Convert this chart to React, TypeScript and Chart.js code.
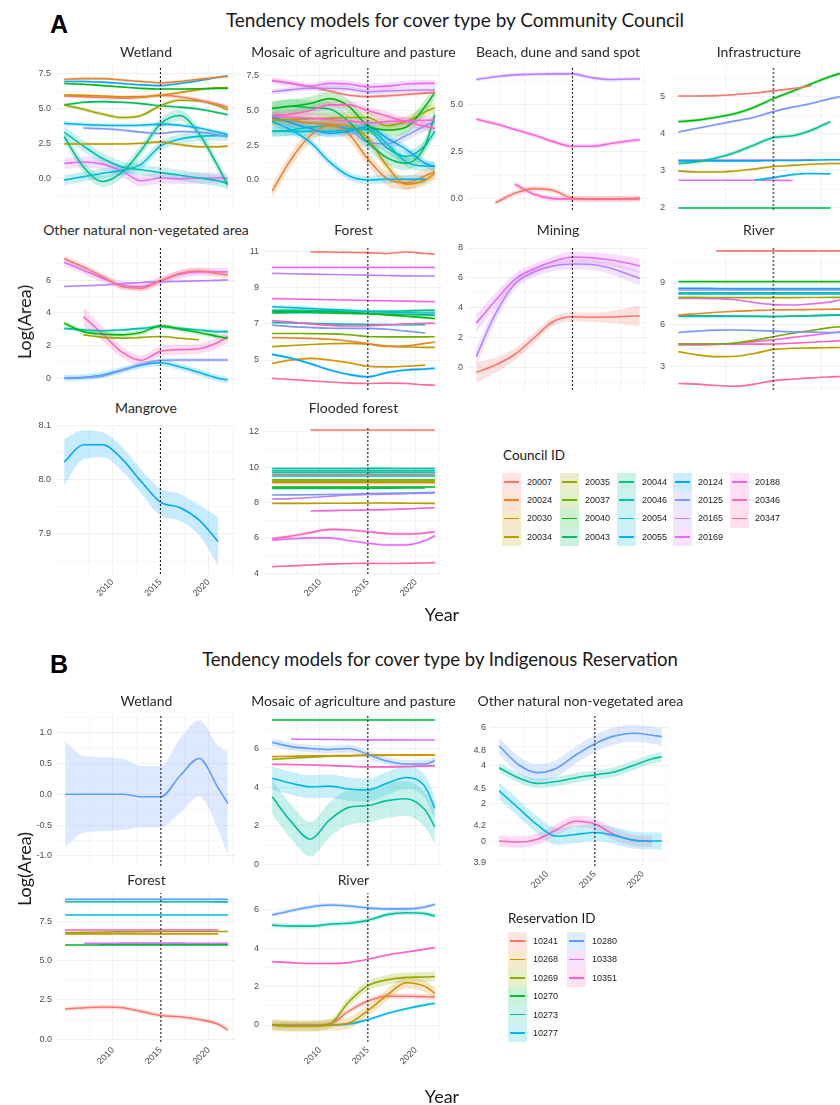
import React, { useEffect, useRef } from 'react';
import { Chart, registerables } from 'chart.js';
Chart.register(...registerables);

// ---------------- data ----------------
const YEARS = [2005, 2007, 2009, 2011, 2013, 2015, 2017, 2019, 2021, 2022];
const X_TICKS = [2010, 2015, 2020];
const X_MINOR = [2007.5, 2012.5, 2017.5, 2022.5];
const BREAK_YEAR = 2015;
const X_MIN = 2004.15;
const X_MAX = 2022.85;

const COUNCIL_IDS = ['20007', '20024', '20030', '20034', '20035', '20037', '20040', '20043', '20044', '20046', '20054', '20055', '20124', '20125', '20165', '20169', '20188', '20346', '20347'];
const RESERVATION_IDS = ['10241', '10268', '10269', '10270', '10273', '10277', '10280', '10338', '10351'];

const A_WETLAND = [
  { id: '20024', v: [7.1, 7.15, 7.15, 7.05, 6.95, 6.85, 6.95, 7.1, 7.25, 7.3], se: 0.1 },
  { id: '20124', v: [6.95, 6.95, 6.9, 6.8, 6.7, 6.65, 6.8, 7.0, 7.25, 7.35], se: 0.08 },
  { id: '20040', v: [6.8, 6.75, 6.65, 6.55, 6.45, 6.4, 6.4, 6.42, 6.45, 6.45], se: 0.06 },
  { id: '20030', v: [5.97, 5.95, 5.9, 5.85, 5.85, 5.95, 6.15, 6.35, 6.5, 6.5], se: 0.1 },
  { id: '20007', v: [5.9, 5.85, 5.8, 5.75, 5.8, 5.95, 5.85, 5.6, 5.3, 5.1], se: 0.15 },
  { id: '20035', v: [5.25, 4.95, 4.6, 4.35, 4.5, 5.2, 5.6, 5.55, 5.2, 4.9], se: 0.15 },
  { id: '20043', v: [5.25, 5.45, 5.5, 5.45, 5.35, 5.2, 5.1, 4.95, 4.7, 4.55], se: 0.1 },
  { id: '20055', v: [3.93, 3.85, 3.8, 3.78, 3.8, 3.88, 3.8, 3.6, 3.3, 3.1], se: 0.15 },
  { id: '20125', v: [null, 3.6, 3.55, 3.45, 3.3, 3.2, 3.35, 3.3, 3.1, 2.95], se: 0.1 },
  { id: '20044', v: [2.97, 0.8, -0.25, 0.4, 2.0, 3.9, 4.5, 3.2, 0.8, -0.5], se: 0.4 },
  { id: '20034', v: [2.45, 2.45, 2.45, 2.45, 2.5, 2.6, 2.4, 2.25, 2.25, 2.3], se: 0.1 },
  { id: '20046', v: [3.3, 2.3, 1.4, 0.8, 0.6, 0.4, 0.2, 0.0, -0.2, -0.4], se: 0.4 },
  { id: '20054', v: [-0.15, 0.1, 0.35, 0.55, 1.0, 2.3, 2.8, 3.0, 3.05, 3.0], se: 0.35 },
  { id: '20169', v: [1.05, 1.15, 1.0, 0.5, -0.2, 0.0, -0.05, 0.0, 0.0, 0.0], se: 0.4 },
];

const A_MOSAIC = [
  { id: '20169', v: [7.15, 6.95, 6.75, 6.95, 6.9, 6.7, 6.75, 6.9, 6.95, 6.95], se: 0.25 },
  { id: '20165', v: [6.35, 6.5, 6.6, 6.6, 6.55, 6.35, 6.4, 6.45, 6.47, 6.47], se: 0.2 },
  { id: '20007', v: [7.15, 6.95, 6.7, 6.4, 6.1, 6.0, 6.05, 6.15, 6.25, 6.3], se: 0.12 },
  { id: '20346', v: [4.6, 4.75, 5.0, 5.4, 5.4, 5.0, 4.6, 4.2, 3.85, 3.7], se: 0.3 },
  { id: '20188', v: [4.6, 4.5, 4.45, 4.35, 4.25, 4.1, 4.2, 4.25, 4.3, 4.3], se: 0.3 },
  { id: '20040', v: [5.15, 5.3, 5.5, 5.85, 5.3, 3.9, 3.6, 3.8, 5.3, 6.3], se: 0.5 },
  { id: '20035', v: [4.3, 4.35, 4.4, 4.45, 4.5, 4.5, 3.9, 4.2, 4.9, 5.2], se: 0.4 },
  { id: '20043', v: [5.15, 5.3, 5.2, 5.1, 4.2, 2.7, 1.6, 1.2, 2.5, 4.7], se: 0.5 },
  { id: '20055', v: [4.2, 3.6, 2.7, 1.3, 0.3, 0.0, 0.05, 0.05, 0.05, null], se: 0.3 },
  { id: '20124', v: [4.55, 4.1, 3.7, 3.35, 3.5, 3.85, 3.0, 2.2, 1.2, 0.95], se: 0.3 },
  { id: '20024', v: [-0.8, 1.5, 3.2, 3.9, 3.3, 1.5, 0.1, -0.2, 0.3, 0.6], se: 0.5 },
  { id: '20030', v: [4.4, 4.3, 4.1, 4.0, 3.9, 3.0, 1.0, -0.3, 0.0, 0.5], se: 0.4 },
  { id: '20046', v: [3.5, 3.6, 3.8, 3.9, 3.7, 3.6, 2.3, 1.7, 2.5, 3.5], se: 0.4 },
  { id: '20125', v: [4.3, 4.2, 4.1, 4.0, 3.7, 2.7, 2.6, 3.2, 3.9, 4.2], se: 0.4 },
  { id: '20054', v: [3.5, 3.5, 3.5, 3.5, 3.6, 3.7, 2.6, 1.3, 1.0, 1.0], se: 0.35 },
];

const A_BEACH = [
  { id: '20165', v: [6.35, 6.5, 6.6, 6.63, 6.65, 6.65, 6.45, 6.35, 6.38, 6.38], se: 0.1 },
  { id: '20188', v: [4.24, 4.0, 3.7, 3.4, 3.05, 2.8, 2.8, 2.95, 3.1, 3.15], se: 0.12 },
  { id: '20007', v: [null, -0.2, 0.3, 0.55, 0.45, 0.05, 0.0, 0.0, 0.0, 0.0], se: 0.15 },
  { id: '20346', v: [null, null, 0.8, 0.25, 0.02, 0.0, 0.0, 0.0, 0.02, 0.05], se: 0.15 },
];

const A_INFRA = [
  { id: '20007', v: [5.02, 5.02, 5.03, 5.06, 5.1, 5.16, 5.22, 5.3, null, null], se: 0.02 },
  { id: '20040', v: [4.33, 4.37, 4.45, 4.55, 4.72, 4.95, 5.15, 5.35, 5.55, 5.63], se: 0.05 },
  { id: '20125', v: [4.05, 4.15, 4.25, 4.35, 4.45, 4.6, 4.72, 4.82, 4.95, 5.0], se: 0.03 },
  { id: '20044', v: [3.2, 3.25, 3.35, 3.5, 3.7, 3.9, 3.95, 4.1, 4.33, null], se: 0.06 },
  { id: '20124', v: [3.27, 3.27, 3.27, 3.27, 3.27, 3.28, 3.28, 3.29, 3.3, 3.3], se: 0.02 },
  { id: '20165', v: [3.29, 3.29, 3.29, 3.29, 3.29, 3.29, 3.29, 3.3, null, null], se: 0.02 },
  { id: '20034', v: [3.0, 2.97, 2.97, 3.0, 3.05, 3.12, 3.15, 3.18, 3.2, 3.2], se: 0.03 },
  { id: '20055', v: [null, null, null, null, 2.75, 2.82, 2.9, 2.93, 2.92, null], se: 0.03 },
  { id: '20169', v: [2.75, 2.75, 2.75, 2.75, 2.75, 2.75, 2.74, null, null, null], se: 0.02 },
  { id: '20043', v: [2.0, 2.0, 2.0, 2.0, 2.0, 2.0, 2.0, 2.0, 2.0, null], se: 0.02 },
];

const A_OTHER = [
  { id: '20007', v: [7.3, 6.8, 6.2, 5.6, 5.5, 5.95, 6.4, 6.55, 6.4, 6.3], se: 0.2 },
  { id: '20169', v: [7.07, 6.6, 6.1, 5.7, 5.6, 5.95, 6.35, 6.5, 6.5, 6.5], se: 0.25 },
  { id: '20165', v: [5.6, 5.65, 5.7, 5.78, 5.85, 5.9, 5.92, 5.95, 5.98, 6.0], se: 0.05 },
  { id: '20040', v: [3.36, 2.85, 2.7, 2.65, 2.8, 3.2, 3.0, 2.8, 2.55, 2.44], se: 0.15 },
  { id: '20046', v: [3.05, 2.95, 2.9, 2.95, 3.05, 3.15, 3.05, 2.95, 2.85, 2.85], se: 0.1 },
  { id: '20035', v: [null, 2.65, 2.5, 2.45, 2.5, 2.55, 2.45, 2.35, null, null], se: 0.05 },
  { id: '20346', v: [null, 3.77, 2.7, 1.6, 1.1, 1.65, 1.75, 1.8, 2.2, 2.55], se: [0, 0.6, 0.45, 0.35, 0.3, 0.3, 0.3, 0.3, 0.35, 0.4] },
  { id: '20125', v: [0.0, 0.05, 0.15, 0.5, 0.85, 1.1, 1.12, 1.12, 1.12, 1.12], se: 0.1 },
  { id: '20055', v: [0.0, 0.05, 0.2, 0.5, 0.8, 0.95, 0.7, 0.35, 0.0, -0.1], se: 0.2 },
];

const A_FOREST = [
  { id: '20007', v: [null, null, 11.0, 10.98, 10.96, 10.95, 10.9, 10.98, 10.9, 10.87], se: 0.03 },
  { id: '20169', v: [10.13, 10.13, 10.13, 10.13, 10.13, 10.13, 10.13, 10.13, 10.13, 10.13], se: 0.02 },
  { id: '20165', v: [9.8, 9.78, 9.76, 9.74, 9.72, 9.7, 9.68, 9.66, 9.65, 9.65], se: 0.02 },
  { id: '20188', v: [8.4, 8.38, 8.36, 8.34, 8.32, 8.3, 8.28, 8.26, 8.24, 8.23], se: 0.02 },
  { id: '20054', v: [7.95, 7.9, 7.85, 7.8, 7.75, 7.68, 7.65, 7.62, 7.6, 7.6], se: 0.1 },
  { id: '20044', v: [7.75, 7.75, 7.74, 7.73, 7.72, 7.7, 7.7, 7.72, 7.75, 7.75], se: 0.08 },
  { id: '20040', v: [7.67, 7.7, 7.7, 7.68, 7.64, 7.58, 7.5, 7.42, 7.35, 7.3], se: 0.06 },
  { id: '20043', v: [7.6, 7.62, 7.62, 7.6, 7.58, 7.56, 7.54, 7.52, 7.5, 7.48], se: 0.05 },
  { id: '20346', v: [7.18, 7.1, 7.0, 6.92, 6.88, 6.9, 6.95, 7.0, 7.03, 7.03], se: 0.04 },
  { id: '20046', v: [7.07, 7.05, 7.03, 7.0, 6.98, 6.97, 6.96, 6.95, 6.95, null], se: 0.04 },
  { id: '20125', v: [6.93, 6.85, 6.8, 6.76, 6.75, 6.75, 6.7, 6.6, 6.5, null], se: 0.04 },
  { id: '20037', v: [6.47, 6.47, 6.46, 6.45, 6.4, 6.3, 6.28, 6.28, 6.28, 6.29], se: 0.03 },
  { id: '20024', v: [6.24, 6.22, 6.2, 6.15, 6.05, 5.9, 5.75, 5.78, 5.92, 6.0], se: 0.04 },
  { id: '20034', v: [5.74, 5.8, 5.86, 5.9, 5.92, 5.88, 5.78, 5.72, 5.7, 5.7], se: 0.03 },
  { id: '20124', v: [5.31, 5.1, 4.8, 4.45, 4.2, 4.07, 4.3, 4.45, 4.5, 4.54], se: 0.08 },
  { id: '20030', v: [4.81, 5.0, 5.09, 5.0, 4.85, 4.65, 4.62, 4.65, 4.72, null], se: 0.05 },
  { id: '20347', v: [3.98, 3.92, 3.85, 3.78, 3.72, 3.7, 3.72, 3.7, 3.62, 3.6], se: 0.03 },
];

const A_MINING = [
  { id: '20169', v: [2.98, 4.5, 5.9, 6.6, 7.1, 7.4, 7.35, 7.2, 6.95, 6.8], se: [0.6, 0.5, 0.4, 0.35, 0.35, 0.35, 0.35, 0.4, 0.45, 0.5] },
  { id: '20165', v: [0.76, 3.6, 5.6, 6.4, 6.8, 6.93, 6.9, 6.65, 6.2, 5.97], se: [0.6, 0.5, 0.4, 0.35, 0.35, 0.35, 0.35, 0.4, 0.45, 0.5] },
  { id: '20007', v: [-0.3, 0.2, 0.9, 2.0, 3.1, 3.42, 3.38, 3.4, 3.45, 3.47], se: [0.7, 0.5, 0.4, 0.35, 0.3, 0.3, 0.3, 0.4, 0.6, 0.7] },
];

const A_RIVER = [
  { id: '20007', v: [null, null, 11.3, 11.3, 11.3, 11.3, 11.3, 11.3, 11.3, 11.3], se: 0.02 },
  { id: '20040', v: [9.1, 9.1, 9.1, 9.1, 9.1, 9.1, 9.1, 9.1, 9.1, 9.1], se: 0.03 },
  { id: '20124', v: [8.62, 8.62, 8.61, 8.6, 8.6, 8.6, 8.6, 8.6, 8.6, 8.6], se: 0.04 },
  { id: '20165', v: [8.5, 8.5, 8.5, 8.5, 8.5, 8.5, 8.5, 8.5, 8.5, 8.5], se: 0.03 },
  { id: '20046', v: [8.3, 8.3, 8.3, 8.3, 8.3, 8.3, 8.3, 8.3, 8.3, 8.3], se: 0.04 },
  { id: '20054', v: [8.22, 8.22, 8.22, 8.22, 8.22, 8.22, 8.22, 8.22, 8.22, 8.22], se: 0.04 },
  { id: '20035', v: [7.97, 7.97, 7.96, 7.95, 7.95, 7.95, 7.95, 7.96, 7.97, 7.97], se: 0.03 },
  { id: '20169', v: [7.9, 7.9, 7.88, 7.8, 7.6, 7.45, 7.42, 7.5, 7.65, 7.78], se: 0.05 },
  { id: '20024', v: [6.7, 6.8, 6.9, 6.98, 7.03, 7.07, 7.08, 7.1, 7.12, 7.13], se: 0.03 },
  { id: '20044', v: [6.65, 6.65, 6.64, 6.63, 6.62, 6.6, 6.62, 6.66, 6.7, 6.72], se: 0.05 },
  { id: '20055', v: [6.6, 6.6, 6.6, 6.6, 6.6, 6.6, 6.62, 6.65, 6.68, 6.7], se: 0.04 },
  { id: '20125', v: [5.45, 5.55, 5.62, 5.63, 5.6, 5.55, 5.5, 5.48, 5.45, 5.45], se: 0.03 },
  { id: '20037', v: [4.63, 4.63, 4.63, 4.7, 4.9, 5.15, 5.4, 5.6, 5.8, 5.87], se: 0.04 },
  { id: '20188', v: [4.56, 4.56, 4.6, 4.68, 4.8, 4.92, 5.1, 5.25, 5.42, 5.5], se: 0.04 },
  { id: '20346', v: [4.65, 4.63, 4.62, 4.62, 4.62, 4.63, 4.68, 4.75, 4.83, 4.87], se: 0.03 },
  { id: '20034', v: [4.08, 3.85, 3.72, 3.75, 3.95, 4.24, 4.32, 4.35, 4.37, 4.38], se: 0.04 },
  { id: '20347', v: [1.8, 1.75, 1.65, 1.6, 1.75, 2.0, 2.1, 2.2, 2.27, 2.3], se: 0.04 },
];

const A_MANGROVE = [
  { id: '20124', v: [8.033, 8.065, 8.065, 8.039, 7.997, 7.959, 7.949, 7.926, 7.886, null], se: [0.043, 0.027, 0.023, 0.022, 0.022, 0.025, 0.025, 0.028, 0.045, null] },
];

const A_FLOODED = [
  { id: '20007', v: [null, null, 12.1, 12.1, 12.1, 12.1, 12.1, 12.1, 12.1, 12.1], se: 0.02 },
  { id: '20044', v: [9.92, 9.92, 9.92, 9.92, 9.92, 9.93, 9.93, 9.92, 9.92, 9.92], se: 0.05 },
  { id: '20046', v: [9.8, 9.8, 9.8, 9.8, 9.8, 9.8, 9.8, 9.8, 9.8, 9.8], se: 0.04 },
  { id: '20054', v: [9.7, 9.7, 9.7, 9.7, 9.7, 9.7, 9.7, 9.7, 9.7, 9.7], se: 0.04 },
  { id: '20024', v: [9.6, 9.6, 9.6, 9.6, 9.6, 9.6, 9.6, 9.6, 9.6, 9.6], se: 0.03 },
  { id: '20055', v: [9.5, 9.5, 9.5, 9.5, 9.5, 9.5, 9.5, 9.5, 9.5, 9.5], se: 0.04 },
  { id: '20037', v: [9.28, 9.28, 9.28, 9.28, 9.28, 9.28, 9.28, 9.28, 9.28, 9.28], se: 0.03 },
  { id: '20035', v: [9.2, 9.2, 9.2, 9.2, 9.2, 9.2, 9.2, 9.2, 9.2, 9.2], se: 0.03 },
  { id: '20030', v: [9.12, 9.12, 9.12, 9.12, 9.12, 9.12, 9.12, 9.12, 9.12, 9.12], se: 0.03 },
  { id: '20040', v: [8.88, 8.88, 8.88, 8.88, 8.88, 8.88, 8.88, 8.88, 8.88, 8.88], se: 0.04 },
  { id: '20043', v: [8.8, 8.8, 8.8, 8.8, 8.8, 8.8, 8.81, 8.82, 8.82, null], se: 0.04 },
  { id: '20125', v: [8.42, 8.43, 8.44, 8.45, 8.47, 8.5, 8.52, 8.54, 8.56, 8.57], se: 0.03 },
  { id: '20165', v: [8.2, 8.22, 8.28, 8.35, 8.42, 8.45, 8.47, 8.5, 8.52, 8.52], se: 0.03 },
  { id: '20034', v: [7.95, 7.95, 7.95, 7.96, 7.96, 7.97, 7.97, 7.96, 7.95, 7.95], se: 0.03 },
  { id: '20188', v: [null, null, 7.52, 7.54, 7.56, 7.58, 7.6, 7.64, 7.68, 7.7], se: 0.03 },
  { id: '20346', v: [5.97, 6.1, 6.3, 6.48, 6.45, 6.35, 6.25, 6.22, 6.28, 6.35], se: 0.08 },
  { id: '20169', v: [5.88, 5.95, 6.0, 6.0, 5.85, 5.7, 5.6, 5.6, 5.85, 6.12], se: 0.08 },
  { id: '20347', v: [4.37, 4.42, 4.47, 4.52, 4.55, 4.56, 4.55, 4.56, 4.58, 4.6], se: 0.03 },
];

const B_WETLAND = [
  { id: '10280', v: [0, 0, 0, 0, -0.04, -0.04, 0.3, 0.58, 0.1, -0.15], se: [0.85, 0.62, 0.6, 0.58, 0.5, 0.5, 0.6, 0.62, 0.68, 0.85] },
];

const B_MOSAIC = [
  { id: '10270', v: [7.48, 7.48, 7.48, 7.48, 7.48, 7.48, 7.48, 7.48, 7.48, 7.48], se: 0.02 },
  { id: '10338', v: [null, 6.49, 6.48, 6.47, 6.46, 6.45, 6.45, 6.45, 6.44, 6.44], se: 0.02 },
  { id: '10280', v: [6.32, 6.1, 6.0, 5.95, 6.0, 5.7, 5.35, 5.2, 5.2, 5.37], se: 0.2 },
  { id: '10268', v: [5.58, 5.6, 5.62, 5.63, 5.64, 5.66, 5.66, 5.66, 5.66, 5.66], se: 0.05 },
  { id: '10269', v: [5.44, 5.5, 5.55, 5.6, 5.62, 5.64, 5.65, 5.66, 5.66, 5.66], se: 0.05 },
  { id: '10351', v: [5.18, 5.17, 5.15, 5.12, 5.08, 5.05, 5.05, 5.07, 5.1, 5.1], se: 0.05 },
  { id: '10277', v: [4.46, 4.2, 4.02, 4.05, 3.9, 3.85, 4.2, 4.5, 4.0, 2.9], se: 0.6 },
  { id: '10273', v: [3.5, 2.2, 1.3, 2.3, 2.95, 3.05, 3.3, 3.4, 2.8, 1.95], se: 0.9 },
];

const B_OTHER = [
  { id: '10280', v: [5.03, 4.05, 3.62, 3.85, 4.55, 5.15, 5.55, 5.7, 5.6, 5.52], se: 0.45 },
  { id: '10273', v: [3.88, 3.35, 3.05, 3.15, 3.35, 3.5, 3.65, 4.0, 4.35, 4.46], se: 0.25 },
  { id: '10277', v: [2.65, 1.75, 0.85, 0.25, 0.35, 0.45, 0.3, 0.05, 0.0, 0.0], se: 0.45 },
  { id: '10351', v: [0.0, -0.05, 0.1, 0.6, 1.05, 0.9, 0.35, 0.05, -0.02, null], se: 0.3 },
];

const B_FOREST = [
  { id: '10280', v: [8.93, 8.93, 8.93, 8.93, 8.93, 8.93, 8.93, 8.93, 8.93, 8.93], se: 0.03 },
  { id: '10273', v: [8.78, 8.78, 8.78, 8.78, 8.78, 8.78, 8.78, 8.78, 8.77, 8.77], se: 0.04 },
  { id: '10277', v: [7.93, 7.93, 7.93, 7.93, 7.93, 7.93, 7.93, 7.93, 7.93, 7.93], se: 0.02 },
  { id: '10351', v: [6.97, 6.97, 6.97, 6.97, 6.97, 6.97, 6.97, 6.97, 6.97, null], se: 0.04 },
  { id: '10269', v: [6.8, 6.82, 6.84, 6.85, 6.86, 6.87, 6.87, 6.87, 6.87, 6.87], se: 0.03 },
  { id: '10268', v: [6.72, 6.72, 6.72, 6.72, 6.72, 6.72, 6.72, 6.72, 6.72, null], se: 0.03 },
  { id: '10338', v: [null, 6.12, 6.12, 6.13, 6.13, 6.13, 6.13, 6.12, 6.12, 6.12], se: 0.03 },
  { id: '10270', v: [6.01, 6.01, 6.02, 6.02, 6.02, 6.02, 6.02, 6.02, 6.02, 6.02], se: 0.03 },
  { id: '10241', v: [1.92, 2.0, 2.05, 2.0, 1.75, 1.5, 1.42, 1.25, 0.95, 0.58], se: 0.15 },
];

const B_RIVER = [
  { id: '10280', v: [5.73, 5.95, 6.15, 6.25, 6.2, 6.1, 6.05, 6.05, 6.15, 6.28], se: 0.1 },
  { id: '10273', v: [5.2, 5.15, 5.15, 5.25, 5.3, 5.45, 5.75, 5.85, 5.8, 5.68], se: 0.12 },
  { id: '10351', v: [3.3, 3.25, 3.2, 3.2, 3.25, 3.42, 3.65, 3.8, 3.95, 4.03], se: 0.05 },
  { id: '10269', v: [0.0, -0.05, -0.05, 0.05, 1.2, 2.05, 2.35, 2.48, 2.5, 2.52], se: 0.25 },
  { id: '10268', v: [0.0, -0.05, -0.05, 0.0, 0.1, 0.75, 1.55, 2.2, 2.0, 1.65], se: 0.3 },
  { id: '10241', v: [0.0, 0.0, 0.0, 0.05, 0.72, 1.25, 1.5, 1.5, 1.47, 1.45], se: 0.15 },
  { id: '10277', v: [0.0, 0.0, 0.0, 0.0, 0.05, 0.28, 0.6, 0.85, 1.05, 1.13], se: 0.08 },
];

// ---------------- layout ----------------
const COL_A = [{ L: 55.8, W: 180.4 }, { L: 263.8, W: 179.3 }, { L: 467.8, W: 180.4 }, { L: 669.9, W: 177.7 }];
const ROW_A = [{ T: 66, H: 144, ty: 52 }, { T: 248, H: 142, ty: 230 }, { T: 428, H: 146, ty: 408 }];
const COL_B = [{ L: 56.8, W: 179.3 }, { L: 263.8, W: 179.3 }, { L: 490.9, W: 179 }];
const ROW_B = [{ T: 714, H: 152, ty: 701 }, { T: 893, H: 149, ty: 880 }];

const FACETS_A = [
  { title: 'Wetland', series: A_WETLAND, c: 0, r: 0, y: [-2.3, 8.06], ticks: [0, 2.5, 5, 7.5], dec: 1 },
  { title: 'Mosaic of agriculture and pasture', series: A_MOSAIC, c: 1, r: 0, y: [-2.16, 8.2], ticks: [0, 2.5, 5, 7.5], dec: 1 },
  { title: 'Beach, dune and sand spot', series: A_BEACH, c: 2, r: 0, y: [-0.585, 7.07], ticks: [0, 2.5, 5], dec: 1 },
  { title: 'Infrastructure', series: A_INFRA, c: 3, r: 0, y: [1.946, 5.83], ticks: [2, 3, 4, 5], dec: 0 },
  { title: 'Other natural non-vegetated area', series: A_OTHER, c: 0, r: 1, y: [-0.714, 7.955], ticks: [0, 2, 4, 6], dec: 0 },
  { title: 'Forest', series: A_FOREST, c: 1, r: 1, y: [3.338, 11.205], ticks: [5, 7, 9, 11], dec: 0 },
  { title: 'Mining', series: A_MINING, c: 2, r: 1, y: [-1.467, 8.0], ticks: [0, 2, 4, 6, 8], dec: 0 },
  { title: 'River', series: A_RIVER, c: 3, r: 1, y: [1.33, 11.509], ticks: [3, 6, 9], dec: 0 },
  { title: 'Mangrove', series: A_MANGROVE, c: 0, r: 2, y: [7.826, 8.096], ticks: [7.9, 8.0, 8.1], dec: 1, showX: true },
  { title: 'Flooded forest', series: A_FLOODED, c: 1, r: 2, y: [3.96, 12.21], ticks: [4, 6, 8, 10, 12], dec: 0, showX: true },
];

const FACETS_B = [
  { title: 'Wetland', series: B_WETLAND, c: 0, r: 0, y: [-1.163, 1.302], ticks: [-1, -0.5, 0, 0.5, 1], dec: 1 },
  { title: 'Mosaic of agriculture and pasture', series: B_MOSAIC, c: 1, r: 0, y: [-0.088, 7.79], ticks: [0, 2, 4, 6], dec: 0 },
  { title: 'Other natural non-vegetated area', series: B_OTHER, c: 2, r: 0, y: [-1.32, 6.72], ticks: [0, 2, 4, 6], dec: 0, showX: true, y2: [3.873, 5.098], ticks2: [3.9, 4.2, 4.5, 4.8] },
  { title: 'Forest', series: B_FOREST, c: 0, r: 1, y: [-0.19, 9.335], ticks: [0, 2.5, 5, 7.5], dec: 1, showX: true },
  { title: 'River', series: B_RIVER, c: 1, r: 1, y: [-0.885, 6.875], ticks: [0, 2, 4, 6], dec: 0, showX: true },
];

// ---------------- colours (ggplot hue palette) ----------------
function hcl(h, c, l) {
  const hr = (h * Math.PI) / 180;
  const U = c * Math.cos(hr), V = c * Math.sin(hr);
  const Xn = 95.047, Yn = 100, Zn = 108.883;
  const un = (4 * Xn) / (Xn + 15 * Yn + 3 * Zn);
  const vn = (9 * Yn) / (Xn + 15 * Yn + 3 * Zn);
  const Y = l > 8 ? Yn * Math.pow((l + 16) / 116, 3) : (Yn * l) / 903.3;
  const u = U / (13 * l) + un, v = V / (13 * l) + vn;
  const X = (9 * Y * u) / (4 * v);
  const Z = (3 * Y) / v - X / 3 - 5 * Y;
  const x = X / 100, y = Y / 100, z = Z / 100;
  const lin = [
    3.240479 * x - 1.53715 * y - 0.498535 * z,
    -0.969256 * x + 1.875992 * y + 0.041556 * z,
    0.055648 * x - 0.204043 * y + 1.057311 * z,
  ];
  return lin.map((t) => {
    const g = t <= 0.0031308 ? 12.92 * t : 1.055 * Math.pow(t, 1 / 2.4) - 0.055;
    return Math.round(Math.max(0, Math.min(1, g)) * 255);
  });
}
function palette(ids) {
  const n = ids.length;
  const map = {};
  ids.forEach((id, i) => { map[id] = hcl(15 + (360 * i) / n, 100, 65); });
  return map;
}
const COLORS_A = palette(COUNCIL_IDS);
const COLORS_B = palette(RESERVATION_IDS);
const rgb = (c, a = 1) => `rgba(${c[0]},${c[1]},${c[2]},${a})`;

// ---------------- chart facet ----------------
const YW = 45;
const PADT = 8;
const PADB = 8;
const PADR = 4;
const XH = 40;
const TICK_FONT = { family: 'Liberation Sans, Arial, sans-serif', size: 9 };
const TICK_COLOR = '#4d4d4d';
const GRID_MAJOR = 'rgba(0,0,0,0.055)';
const GRID_MINOR = 'rgba(0,0,0,0.028)';
const near = (arr, v) => arr.some((a) => Math.abs(a - v) < 1e-6);

function minorsOf(ticks, lo, hi) {
  const step = ticks[1] - ticks[0];
  const out = [];
  for (let t = ticks[0] - step / 2; t <= hi; t += step) if (t >= lo) out.push(t);
  return out;
}

const txt = { position: 'absolute', fontFamily: 'Lato, "Open Sans", sans-serif', whiteSpace: 'nowrap', lineHeight: 1 };

function Facet({ f, col, row, colors }) {
  const ref = useRef(null);
  const showX = !!f.showX;
  const cw = col.W + YW + PADR;
  const ch = row.H + PADT + (showX ? XH : PADB);
  useEffect(() => {
    const curve = { tension: 0.4, cubicInterpolationMode: 'monotone', pointRadius: 0, spanGaps: false };
    const datasets = [];
    f.series.forEach((s) => {
      const c = colors[s.id];
      const se = (i) => (Array.isArray(s.se) ? s.se[i] : s.se);
      datasets.push({
        ...curve, data: YEARS.map((x, i) => ({ x, y: s.v[i] == null ? null : s.v[i] + se(i) })),
        fill: '+1', backgroundColor: rgb(c, 0.22), borderColor: 'transparent', borderWidth: 0, order: 3,
      });
      datasets.push({
        ...curve, data: YEARS.map((x, i) => ({ x, y: s.v[i] == null ? null : s.v[i] - se(i) })),
        fill: false, borderColor: 'transparent', borderWidth: 0, order: 3,
      });
    });
    f.series.forEach((s) => {
      datasets.push({
        ...curve, data: YEARS.map((x, i) => ({ x, y: s.v[i] })),
        fill: false, borderColor: rgb(colors[s.id]), borderWidth: 1.6, order: 2,
      });
    });
    datasets.push({
      data: [{ x: BREAK_YEAR, y: f.y[0] }, { x: BREAK_YEAR, y: f.y[1] }],
      borderColor: '#222', borderWidth: 1.1, borderDash: [2, 2], pointRadius: 0, fill: false, order: 0,
    });
    const yMinor = minorsOf(f.ticks, f.y[0], f.y[1]);
    const scales = {
      x: {
        type: 'linear', min: X_MIN, max: X_MAX,
        afterBuildTicks: (s) => { s.ticks = [...X_TICKS, ...X_MINOR].sort((a, b) => a - b).map((v) => ({ value: v })); },
        afterFit: (s) => { s.height = showX ? XH : 0; s.paddingLeft = 0; s.paddingRight = 0; },
        ticks: {
          display: showX, autoSkip: false, minRotation: 45, maxRotation: 45, padding: 3,
          font: TICK_FONT, color: TICK_COLOR,
          callback: (v) => (near(X_TICKS, v) ? String(v) : ''),
        },
        grid: { drawTicks: false, color: (ctx) => (ctx.tick && near(X_TICKS, ctx.tick.value) ? GRID_MAJOR : GRID_MINOR) },
        border: { display: false },
      },
      y: {
        type: 'linear', position: 'left', weight: 1, min: f.y[0], max: f.y[1],
        afterBuildTicks: (s) => { s.ticks = [...f.ticks, ...yMinor].sort((a, b) => a - b).map((v) => ({ value: v })); },
        afterFit: (s) => { s.width = YW; s.paddingTop = 0; s.paddingBottom = 0; },
        ticks: {
          autoSkip: false, padding: 5, font: TICK_FONT, color: TICK_COLOR,
          callback: (v) => (near(f.ticks, v) ? Number(v).toFixed(f.dec) : ''),
        },
        grid: { drawTicks: false, color: (ctx) => (ctx.tick && near(f.ticks, ctx.tick.value) ? GRID_MAJOR : GRID_MINOR) },
        border: { display: false },
      },
    };
    if (f.y2) {
      // second (overlaid) set of tick labels sharing the same column as the primary axis
      scales.y2 = {
        type: 'linear', position: 'left', weight: 0, min: f.y2[0], max: f.y2[1],
        afterBuildTicks: (s) => { s.ticks = f.ticks2.map((v) => ({ value: v })); },
        afterFit: (s) => {
          s.width = 0; s.paddingTop = 0; s.paddingBottom = 0;
          s._computeLabelArea = () => undefined;
        },
        ticks: { autoSkip: false, padding: 5, font: TICK_FONT, color: TICK_COLOR, callback: (v) => Number(v).toFixed(1) },
        grid: { display: false, drawTicks: false },
        border: { display: false },
      };
    }
    const chart = new Chart(ref.current, {
      type: 'line',
      data: { datasets },
      options: {
        animation: false,
        responsive: false,
        maintainAspectRatio: false,
        events: [],
        layout: { padding: { top: PADT, right: PADR, bottom: showX ? 0 : PADB, left: 0 } },
        plugins: { legend: { display: false }, tooltip: { enabled: false }, title: { display: false } },
        scales,
      },
    });
    return () => chart.destroy();
  }, []);
  return (
    <>
      <canvas
        ref={ref}
        width={cw}
        height={ch}
        style={{ position: 'absolute', left: col.L - YW, top: row.T - PADT, width: cw, height: ch }}
      />
      <div style={{ ...txt, left: col.L + col.W / 2, top: row.ty, fontSize: 14, color: '#2a2a2a', transform: 'translate(-50%,-50%)' }}>{f.title}</div>
    </>
  );
}

function Legend({ title, ids, colors, x0, titleY, keyLefts, rowY0, rowH, perCol }) {
  return (
    <>
      <div style={{ ...txt, left: x0, top: titleY, fontSize: 13.5, color: '#1a1a1a', transform: 'translateY(-50%)' }}>{title}</div>
      {ids.map((id, i) => {
        let colIdx = 0;
        let r = i;
        let rest = i;
        for (let k = 0; k < keyLefts.length; k++) {
          const n = perCol[Math.min(k, perCol.length - 1)];
          if (rest < n) { colIdx = k; r = rest; break; }
          rest -= n;
        }
        const kl = keyLefts[colIdx];
        const cy = rowY0 + r * rowH;
        const c = colors[id];
        return (
          <React.Fragment key={id}>
            <div style={{ position: 'absolute', left: kl, top: cy - rowH / 2, width: 19, height: rowH, background: rgb(c, 0.2) }} />
            <div style={{ position: 'absolute', left: kl + 2, top: cy - 0.9, width: 15, height: 1.8, background: rgb(c) }} />
            <div style={{ ...txt, fontFamily: 'Liberation Sans, Arial, sans-serif', left: kl + 25, top: cy, fontSize: 9, color: '#222', transform: 'translateY(-50%)' }}>{id}</div>
          </React.Fragment>
        );
      })}
    </>
  );
}

export default function App() {
  return (
    <div style={{ position: 'absolute', left: 0, top: 0, width: 840, height: 1105, overflow: 'hidden', background: '#fff' }}>
      {/* Panel A */}
      <div style={{ ...txt, fontFamily: 'Liberation Sans, Arial, sans-serif', fontWeight: 'bold', fontSize: 25, left: 50, top: 12, color: '#000' }}>A</div>
      <div style={{ ...txt, left: 455, top: 19, fontSize: 19, color: '#1a1a1a', transform: 'translate(-50%,-50%)' }}>Tendency models for cover type by Community Council</div>
      {FACETS_A.map((f, i) => (
        <Facet key={'a' + i} f={f} col={COL_A[f.c]} row={ROW_A[f.r]} colors={COLORS_A} />
      ))}
      <div style={{ ...txt, left: 24, top: 322, fontSize: 18, color: '#1a1a1a', transform: 'translate(-50%,-50%) rotate(-90deg)' }}>Log(Area)</div>
      <div style={{ ...txt, left: 442, top: 614, fontSize: 18, color: '#1a1a1a', transform: 'translate(-50%,-50%)' }}>Year</div>
      <Legend title="Council ID" ids={COUNCIL_IDS} colors={COLORS_A} x0={503} titleY={456}
        keyLefts={[502, 560, 617, 673, 730]} rowY0={481.7} rowH={18.35} perCol={[4]} />

      {/* Panel B */}
      <div style={{ ...txt, fontFamily: 'Liberation Sans, Arial, sans-serif', fontWeight: 'bold', fontSize: 25, left: 50, top: 652, color: '#000' }}>B</div>
      <div style={{ ...txt, left: 440, top: 659, fontSize: 18.5, color: '#1a1a1a', transform: 'translate(-50%,-50%)' }}>Tendency models for cover type by Indigenous Reservation</div>
      {FACETS_B.map((f, i) => (
        <Facet key={'b' + i} f={f} col={COL_B[f.c]} row={ROW_B[f.r]} colors={COLORS_B} />
      ))}
      <div style={{ ...txt, left: 24, top: 869, fontSize: 18, color: '#1a1a1a', transform: 'translate(-50%,-50%) rotate(-90deg)' }}>Log(Area)</div>
      <div style={{ ...txt, left: 442, top: 1096, fontSize: 18, color: '#1a1a1a', transform: 'translate(-50%,-50%)' }}>Year</div>
      <Legend title="Reservation ID" ids={RESERVATION_IDS} colors={COLORS_B} x0={508} titleY={919}
        keyLefts={[508, 567]} rowY0={941} rowH={18.4} perCol={[6, 3]} />
    </div>
  );
}
